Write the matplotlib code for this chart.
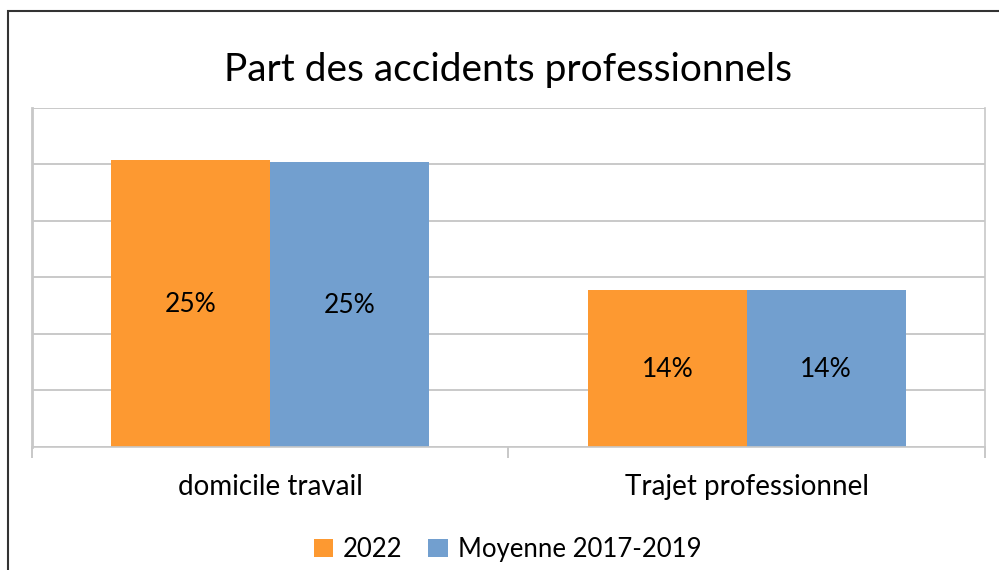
"""Part des accidents professionnels - grouped bar chart."""

import matplotlib

matplotlib.use("Agg")
import matplotlib.pyplot as plt
import numpy as np
from matplotlib.patches import Rectangle

categories = ["domicile travail", "Trajet professionnel"]
series_names = ["2022", "Moyenne 2017-2019"]
values_2022 = [25.4, 13.9]
values_moyenne = [25.2, 13.9]
colors = ["#FD9931", "#729FCF"]

plt.rcParams["font.family"] = ["Lato", "DejaVu Sans"]

fig = plt.figure(figsize=(9.99, 5.70), dpi=100)
ax = fig.add_axes([0.032, 0.2163, 0.954, 0.5942])

# outer chart frame (cut off on the right and bottom in the original)
fig.patches.append(
    Rectangle((0.008, -0.1), 1.2, 1.08, transform=fig.transFigure,
              fill=False, edgecolor="#333333", linewidth=1.5)
)

x = np.arange(len(categories))
width = 1 / 3
for offset, vals, name, color in [
    (-width / 2, values_2022, series_names[0], colors[0]),
    (width / 2, values_moyenne, series_names[1], colors[1]),
]:
    bars = ax.bar(x + offset, vals, width, color=color, label=name, zorder=2)
    for bar, v in zip(bars, vals):
        ax.text(bar.get_x() + bar.get_width() / 2, v / 2 - 0.1, f"{v:.0f}%",
                ha="center", va="center", fontsize=19, color="black", zorder=3)

ax.set_xlim(-0.5, len(categories) - 0.5)
ax.set_ylim(0, 30)
ax.set_yticks(np.arange(0, 31, 5))
ax.yaxis.grid(True, color="#C0C0C0", linewidth=1.2, zorder=0)
ax.tick_params(axis="y", left=False, labelleft=False)

ax.set_xticks(x)
ax.set_xticklabels(categories, fontsize=20)
ax.tick_params(axis="x", which="major", length=0, pad=20)
ax.set_xticks(np.arange(-0.5, len(categories), 1), minor=True)
ax.tick_params(axis="x", which="minor", length=8, color="#BFBFBF", width=1.2)

for side in ["left", "right", "bottom"]:
    ax.spines[side].set_color("#C8C8C8")
    ax.spines[side].set_linewidth(1.2)
ax.spines["left"].set_linewidth(2)
ax.spines["top"].set_visible(False)

fig.text(0.509, 0.878, "Part des accidents professionnels", ha="center",
         va="center", fontsize=28)

fig.legend(loc="center", bbox_to_anchor=(0.508, 0.036), ncol=2, frameon=False,
           fontsize=18.5, handlelength=0.75, handleheight=0.75, handletextpad=0.4,
           columnspacing=1.0)

fig.savefig("out.png", dpi=100)
plt.close(fig)
